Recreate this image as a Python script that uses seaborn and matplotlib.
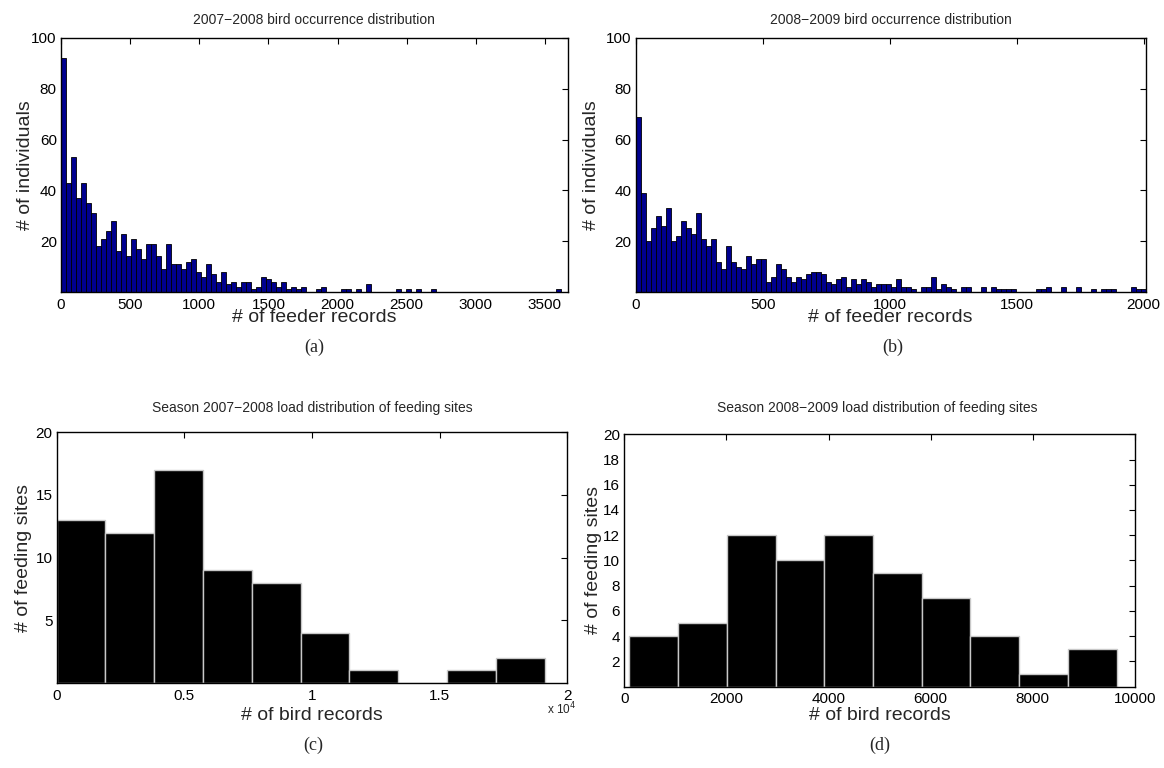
import numpy as np
import pandas as pd
import matplotlib
matplotlib.use("Agg")
import matplotlib.pyplot as plt
import seaborn as sns

# ---- data: counts per histogram bin -------------------------------------
# (a) feeder records per individual, season 2007-2008 (100 bins over 0..3615)
occ_0708 = [92, 43, 53, 37, 43, 35, 31, 18, 21, 24, 28, 16, 23, 14, 21, 17, 13, 19, 19, 14,
            9, 19, 11, 11, 9, 12, 13, 8, 6, 11, 7, 4, 8, 3, 4, 2, 4, 4, 1, 2,
            6, 5, 4, 2, 4, 1, 2, 1, 2, 0, 0, 1, 2, 0, 0, 0, 1, 1, 0, 1,
            0, 3, 0, 0, 0, 0, 0, 1, 0, 1, 0, 1, 0, 0, 1, 0, 0, 0, 0, 0,
            0, 0, 0, 0, 0, 0, 0, 0, 0, 0, 0, 0, 0, 0, 0, 0, 0, 0, 0, 1]
occ_0708_range = (0, 3615)

# (b) feeder records per individual, season 2008-2009 (102 bins over 0..2008)
occ_0809 = [69, 39, 20, 25, 30, 26, 33, 20, 22, 28, 25, 23, 31, 21, 18, 21, 12, 9, 18, 12,
            10, 9, 14, 11, 13, 13, 4, 6, 11, 9, 6, 4, 6, 5, 7, 8, 8, 7, 4, 3,
            5, 6, 2, 5, 3, 5, 4, 2, 3, 3, 3, 2, 5, 2, 2, 1, 0, 2, 2, 6,
            1, 3, 2, 1, 0, 2, 2, 0, 0, 2, 0, 2, 1, 1, 1, 1, 0, 0, 0, 0,
            1, 1, 2, 0, 0, 2, 0, 0, 2, 0, 0, 1, 0, 1, 1, 1, 0, 0, 0, 2,
            1, 1]
occ_0809_range = (0, 2008)

# (c), (d) bird records per feeding site
load_0708 = [13, 12, 17, 9, 8, 4, 1, 0, 1, 2]
load_0708_range = (0, 19110)
load_0809 = [4, 5, 12, 10, 12, 9, 7, 4, 1, 3]
load_0809_range = (100, 9640)

titles = ["2007\u22122008 bird occurrence distribution",
          "2008\u22122009 bird occurrence distribution",
          "Season 2007\u22122008 load distribution of feeding sites",
          "Season 2008\u22122009 load distribution of feeding sites"]
xlabels = ["# of feeder records", "# of feeder records",
           "# of bird records", "# of bird records"]
ylabels = ["# of individuals", "# of individuals",
           "# of feeding sites", "# of feeding sites"]
captions = ["(a)", "(b)", "(c)", "(d)"]

xticks_a = [0, 500, 1000, 1500, 2000, 2500, 3000, 3500]
xticks_b = [0, 500, 1000, 1500, 2000]
yticks_ab = [20, 40, 60, 80, 100]
xticks_c = [0, 5000, 10000, 15000, 20000]
xticklabels_c = ["0", "0.5", "1", "1.5", "2"]
yticks_c = [5, 10, 15, 20]
xticks_d = [0, 2000, 4000, 6000, 8000, 10000]
yticks_d = [2, 4, 6, 8, 10, 12, 14, 16, 18, 20]

# ---- style ---------------------------------------------------------------
sns.set_theme(style="white")
plt.rcParams["font.family"] = ["Liberation Sans", "DejaVu Sans"]
plt.rcParams.update({
    "axes.edgecolor": "black",
    "axes.linewidth": 1.0,
    "xtick.direction": "in",
    "ytick.direction": "in",
    "xtick.major.size": 4,
    "ytick.major.size": 4,
    "xtick.major.width": 0.8,
    "ytick.major.width": 0.8,
    "xtick.color": "black",
    "ytick.color": "black",
    "xtick.labelsize": 11,
    "ytick.labelsize": 11,
    "xtick.major.pad": 4,
    "ytick.major.pad": 3,
})

W, H = 1164, 768
fig = plt.figure(figsize=(W / 100, H / 100), dpi=100)

# axes boxes in pixels: left, right, top, bottom
boxes = [(61, 568, 38, 292), (635.7, 1145.7, 38, 292),
         (56.7, 567.4, 432.3, 683), (624.3, 1135, 434.3, 686.5)]


def add_axes_px(box):
    x0, x1, y0, y1 = box
    return fig.add_axes([x0 / W, 1 - y1 / H, (x1 - x0) / W, (y1 - y0) / H])


def draw_hist(ax, counts, lo, hi, face, edge, lw):
    n = len(counts)
    edges = np.linspace(lo, hi, n + 1)
    df = pd.DataFrame({"value": 0.5 * (edges[:-1] + edges[1:]),
                       "count": np.asarray(counts, dtype=float)})
    sns.histplot(data=df, x="value", weights="count", bins=n,
                 binrange=(lo, hi), ax=ax, stat="count", color=face,
                 edgecolor=edge, linewidth=lw, alpha=1.0)


axes = [add_axes_px(b) for b in boxes]
ax_a, ax_b, ax_c, ax_d = axes

navy = "#00008F"
draw_hist(ax_a, occ_0708, *occ_0708_range, navy, "black", 0.6)
draw_hist(ax_b, occ_0809, *occ_0809_range, navy, "black", 0.6)
draw_hist(ax_c, load_0708, *load_0708_range, "black", "#c8c8c8", 1.0)
draw_hist(ax_d, load_0809, *load_0809_range, "black", "#c8c8c8", 1.0)

ax_a.set_xlim(0, 3667)
ax_a.set_ylim(0, 100)
ax_a.set_xticks(xticks_a)
ax_a.set_yticks(yticks_ab)

ax_b.set_xlim(0, 2008)
ax_b.set_ylim(0, 100)
ax_b.set_xticks(xticks_b)
ax_b.set_yticks(yticks_ab)

ax_c.set_xlim(0, 20000)
ax_c.set_ylim(0, 20)
ax_c.set_xticks(xticks_c)
ax_c.set_xticklabels(xticklabels_c)
ax_c.set_yticks(yticks_c)

ax_d.set_xlim(0, 10000)
ax_d.set_ylim(0, 20)
ax_d.set_xticks(xticks_d)
ax_d.set_yticks(yticks_d)

# label / title placement (pixel centres)
title_pos = [(314, 20), (891, 20), (312, 408), (877, 408)]
ylabel_x = [26, 592, 24, 593]
xlabel_y = [318, 318, 716, 716]
caption_pos = [(314, 347), (893, 347), (313, 745), (880, 745)]

for i, ax in enumerate(axes):
    x0, x1, y0, y1 = boxes[i]
    ax.tick_params(top=True, right=True, labeltop=False, labelright=False)
    for s in ax.spines.values():
        s.set_visible(True)
        s.set_color("black")
    ax.set_xlabel(xlabels[i], fontsize=14)
    ax.set_ylabel(ylabels[i], fontsize=14)
    cx = ((x0 + x1) / 2 - x0) / (x1 - x0)
    ax.xaxis.set_label_coords(cx, (y1 - xlabel_y[i]) / (y1 - y0))
    ax.xaxis.label.set_va("center")
    ax.yaxis.set_label_coords((ylabel_x[i] - x0) / (x1 - x0), 0.5)
    ax.yaxis.label.set_va("center")
    tx, ty = title_pos[i]
    fig.text(tx / W, 1 - ty / H, titles[i], ha="center", va="center", fontsize=10)
    cpx, cpy = caption_pos[i]
    fig.text(cpx / W, 1 - cpy / H, captions[i], ha="center", va="center",
             fontsize=13, family="Liberation Serif")

# exponent marker for panel (c)
fig.text(576 / W, 1 - 709 / H, r"x 10$^{4}$", ha="right", va="center", fontsize=8.5)

fig.savefig("out.png", dpi=100)
